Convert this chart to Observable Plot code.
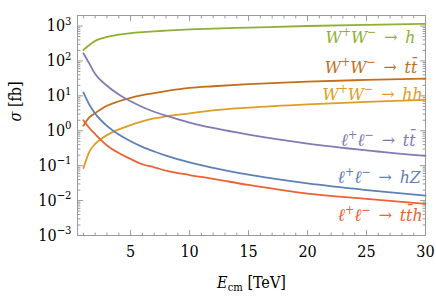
<!DOCTYPE html>
<html><head><meta charset="utf-8">
<script src="https://cdn.jsdelivr.net/npm/d3@7"></script>
<script src="https://cdn.jsdelivr.net/npm/@observablehq/plot@0.6"></script>
<style>html,body{margin:0;padding:0;background:#fff} svg{display:block}
#chart svg, #chart svg text, #chart svg tspan { font-family: "DejaVu Serif", serif !important; font-stretch: condensed; }
</style>
</head><body><div id="chart"></div>
<script>
// ---- data ----
const energies = [1, 1.5, 2, 3, 4, 5, 6, 7, 8, 10, 12, 15, 20, 25, 30];
const seriesNames = ["W⁺W⁻ → h", "W⁺W⁻ → tt̄", "W⁺W⁻ → hh", "ℓ⁺ℓ⁻ → tt̄", "ℓ⁺ℓ⁻ → hZ", "ℓ⁺ℓ⁻ → tt̄h"];
const wwH   = [206, 285, 375, 485, 565, 620, 665, 705, 740, 800, 845, 900, 1000, 1080, 1150];
const wwTT  = [1.4, 2.4, 3.2, 5.2, 7.0, 8.8, 10.5, 12.0, 13.6, 16.8, 18.8, 21.6, 25.7, 28.5, 31];
const wwHH  = [0.085, 0.25, 0.42, 0.75, 1.1, 1.45, 1.85, 2.25, 2.6, 3.15, 3.85, 4.6, 5.7, 6.7, 7.7];
const llTT  = [166, 84, 42, 19.5, 11, 7, 4.8, 3.5, 2.7, 1.72, 1.2, 0.77, 0.43, 0.275, 0.19];
const llHZ  = [12.5, 5.6, 3.1, 1.38, 0.78, 0.5, 0.345, 0.255, 0.195, 0.124, 0.086, 0.055, 0.031, 0.02, 0.0138];
const llTTH = [2.0, 1.2, 0.8, 0.38, 0.23, 0.155, 0.11, 0.09, 0.072, 0.054, 0.042, 0.028, 0.0158, 0.0112, 0.0081];
const seriesValues = [wwH, wwTT, wwHH, llTT, llHZ, llTTH];
const colors = ["#8FB032", "#C56E1A", "#E19C24", "#8778B3", "#5E81B5", "#EB6235"];
// label anchors (data coordinates)
const labelE     = [29.15, 29.3, 29.75, 29.15, 29.6, 29.75];
const labelSigma = [485, 64, 10.7, 0.52, 0.046, 0.0037];
// ticks
const xMajor = [5, 10, 15, 20, 25, 30];
const xMinor = d3.range(1, 30).filter(d => d % 5 !== 0);
const yMajor = [1e-3, 1e-2, 1e-1, 1, 10, 100, 1000];
const yMinor = d3.range(-3, 4).flatMap(e => d3.range(2, 10).map(k => k * Math.pow(10, e))).filter(v => v <= 2000);
const xDomain = [0.5, 30];
const yDomain = [1e-3, 2000];

const rows = seriesNames.flatMap((name, i) => energies.map((e, j) => ({name, E: e, sigma: seriesValues[i][j]})));
const labelRows = seriesNames.map((name, i) => ({name, E: labelE[i], sigma: labelSigma[i]}));

const tickShape = {draw(context, l) { context.moveTo(0, 0); context.lineTo(0, -l); }};
const tickStyle = {stroke: "#9a9a9a", strokeWidth: 1, shape: tickShape, anchor: "start"};
function ticks(majorLen, minorLen) {
  return [
    Plot.vector(xMajor, {x: d => d, y: () => yDomain[0], rotate: 0, length: majorLen, ...tickStyle}),
    Plot.vector(xMinor, {x: d => d, y: () => yDomain[0], rotate: 0, length: minorLen, ...tickStyle}),
    Plot.vector(xMajor, {x: d => d, y: () => yDomain[1], rotate: 180, length: majorLen, ...tickStyle}),
    Plot.vector(xMinor, {x: d => d, y: () => yDomain[1], rotate: 180, length: minorLen, ...tickStyle}),
    Plot.vector(yMajor, {y: d => d, x: () => xDomain[0], rotate: 90, length: majorLen, ...tickStyle}),
    Plot.vector(yMinor, {y: d => d, x: () => xDomain[0], rotate: 90, length: minorLen, ...tickStyle}),
    Plot.vector(yMajor, {y: d => d, x: () => xDomain[1], rotate: 270, length: majorLen, ...tickStyle}),
    Plot.vector(yMinor, {y: d => d, x: () => xDomain[1], rotate: 270, length: minorLen, ...tickStyle})
  ];
}

const serif = "DejaVu Serif";
const chart = Plot.plot({
  width: 436, height: 298,
  marginLeft: 77, marginRight: 11, marginTop: 15, marginBottom: 63,
  style: {fontFamily: serif, fontSize: "16px", background: "#fff", color: "#000", overflow: "visible"},
  x: {domain: xDomain},
  y: {type: "log", domain: yDomain},
  color: {domain: seriesNames, range: colors},
  marks: [
    Plot.frame({stroke: "#9a9a9a", strokeWidth: 1}),
    ...ticks(5, 2.5),
    Plot.axisX(xMajor, {tickSize: 0, tickPadding: 10, fontSize: 16, fontFamily: serif, label: null}),
    Plot.axisY(yMajor, {tickSize: 0, tickPadding: 6, fontSize: 16, fontFamily: serif, label: null,
      tickFormat: d => { const e = Math.round(Math.log10(d)); return "10^" + (e < 0 ? "−" + (-e) : String(e)); }}),
    Plot.line(rows, {x: "E", y: "sigma", z: "name", stroke: "name", strokeWidth: 1.8, curve: "monotone-x"}),
    Plot.text(labelRows, {x: "E", y: "sigma", text: d => d.name.replace(" → ", "\u2002→\u2002"), fill: "name",
      textAnchor: "end", fontSize: 17.5, fontFamily: serif}),
    Plot.text(["σ [fb]"], {frameAnchor: "left", dx: -62, dy: -4, rotate: -90, fontSize: 16, fontFamily: serif, text: d => d}),
    Plot.text(["E_cm [TeV]"], {frameAnchor: "bottom", lineAnchor: "middle", dy: 47, fontSize: 16, fontFamily: serif, text: d => d})
  ]
});
document.getElementById("chart").append(chart);

// ---- math-style typesetting of the texts (italic letters, super/subscripts) ----
const NS = "http://www.w3.org/2000/svg";
function typeset(el) {
  const str = el.textContent;
  const fs = parseFloat(getComputedStyle(el).fontSize) || 16;
  const chars = Array.from(str);
  const segs = [];
  let bracket = false, mode = null;
  for (let i = 0; i < chars.length; i++) {
    let c = chars[i];
    while (i + 1 < chars.length && /[\u0300-\u036f]/.test(chars[i + 1])) c += chars[++i];
    if (c === "^") { mode = "sup"; continue; }
    if (c === "_") { mode = "sub"; continue; }
    if (/\s/.test(c)) mode = null;
    if (c === "[") bracket = true;
    let pos = mode || "base", italic = false, ch = c;
    if (c === "⁺") { ch = "+"; pos = "sup"; }
    else if (c === "⁻") { ch = "−"; pos = "sup"; }
    else if (!mode && !bracket && /[A-Za-zℓσ]/.test(c[0])) italic = true;
    if (c === "]") bracket = false;
    const last = segs[segs.length - 1];
    if (last && last.pos === pos && last.italic === italic) last.text += ch;
    else segs.push({text: ch, pos, italic});
  }
  el.textContent = "";
  let cur = 0;
  for (const s of segs) {
    const t = document.createElementNS(NS, "tspan");
    const target = s.pos === "sup" ? -0.4 * fs : s.pos === "sub" ? 0.22 * fs : 0;
    if (target !== cur) { t.setAttribute("dy", target - cur); cur = target; }
    if (s.pos !== "base") t.setAttribute("font-size", (0.7 * fs).toFixed(1));
    t.setAttribute("font-style", s.italic ? "italic" : "normal");
    t.textContent = s.text;
    el.appendChild(t);
  }
}
chart.querySelectorAll("text").forEach(typeset);
</script>
</body></html>
